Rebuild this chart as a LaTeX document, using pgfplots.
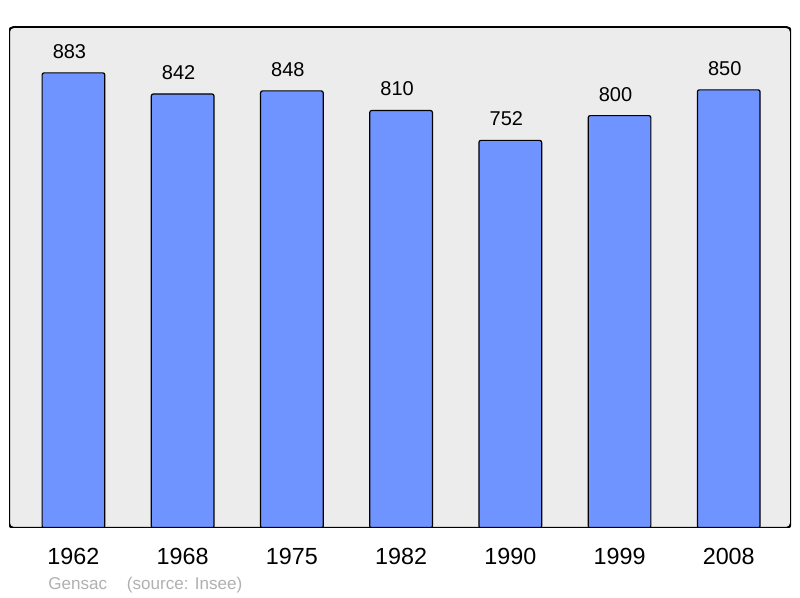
\documentclass[border=0pt]{standalone}
\usepackage{pgfplots}
\pgfplotsset{compat=1.18}
\usepackage{fontspec}
\setmainfont{Liberation Sans}
\definecolor{bg}{HTML}{ECECEC}
\definecolor{barblue}{HTML}{7094FF}
\definecolor{foot}{HTML}{B0B0B0}
\begin{document}
\begin{tikzpicture}
\useasboundingbox (0,0) rectangle (600pt,448.5pt);
\begin{axis}[
  at={(6.75pt,52.5pt)}, anchor=south west,
  scale only axis, width=586.5pt, height=375.75pt,
  xmin=-0.59, xmax=6.57, ymin=0, ymax=972,
  axis background/.style={fill=bg},
  axis line style={draw=none},
  ytick=\empty,
  xtick=data,
  xticklabels={1962,1968,1975,1982,1990,1999,2008},
  xtick style={draw=none},
  xticklabel style={font=\fontsize{17.5}{20}\selectfont, yshift=-11.5pt},
  /pgf/number format/assume math mode=true,
  /pgf/number format/1000 sep={},
  nodes near coords,
  nodes near coords style={font=\fontsize{15}{17}\selectfont, anchor=south, yshift=7pt, xshift=-3pt, text=black},
]
\addplot[ybar, bar width=47pt, fill=barblue, draw=black, line width=0.9pt, rounded corners=1.5pt] coordinates {
(0,883) (1,842) (2,848) (3,810) (4,752) (5,800) (6,850)};
\draw[line width=1.5pt, rounded corners=3.5pt] (rel axis cs:0,0) rectangle (rel axis cs:1,1);
\end{axis}
\node[anchor=base west, text=foot, font=\fontsize{12.8}{15}\selectfont, inner sep=0pt] at (36pt,6.2pt) {Gensac};
\node[anchor=base west, text=foot, font=\fontsize{12.8}{15}\selectfont, inner sep=0pt] at (95pt,6.2pt) {(source: Insee)};
\end{tikzpicture}
\end{document}
